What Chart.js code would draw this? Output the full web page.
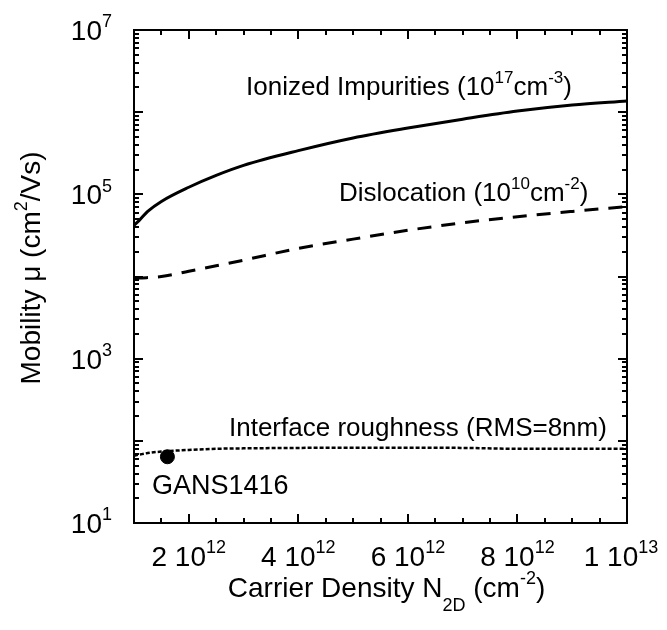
<!DOCTYPE html>
<html>
<head>
<meta charset="utf-8">
<script src="https://cdn.jsdelivr.net/npm/chart.js@4"></script>
<style>
  html, body { margin: 0; padding: 0; background: #fff; }
</style>
</head>
<body>
<canvas id="mobilityChart" width="667" height="630"></canvas>
<script>
// carrier density N2D (cm^-2)
const nDensity = [1e12, 1.1e12, 1.25e12, 1.5e12, 2e12, 2.5e12, 3e12, 4e12, 5e12, 6e12, 7e12, 8e12, 9e12, 1e13];
// mobility (cm^2/Vs) for each scattering mechanism
const ionizedImpurities = [4.2e4, 4.85e4, 6.2e4, 8.2e4, 1.22e5, 1.7e5, 2.25e5, 3.4e5, 4.85e5, 6.4e5, 8.2e5, 1.03e6, 1.22e6, 1.37e6];
const dislocation = [9.6e3, 9.6e3, 9.7e3, 1.0e4, 1.16e4, 1.35e4, 1.58e4, 2.2e4, 2.85e4, 3.65e4, 4.5e4, 5.35e4, 6.2e4, 7.1e4];
const interfaceRoughness = [66, 68, 71, 74, 77.5, 80, 81, 82, 82.5, 82.5, 82, 80, 80, 80];
// measured sample
const sampleN = [1.61e12];
const sampleMobility = [64];

// axis ticks
const xTickValues = [2e12, 4e12, 6e12, 8e12, 1e13];
const xTickMantissa = ['2', '4', '6', '8', '1'];
const xTickExps = ['12', '12', '12', '12', '13'];
const yTickValues = [1e1, 1e3, 1e5, 1e7];
const yTickExps = ['1', '3', '5', '7'];

const FONT = '"Liberation Sans", Arial, Helvetica, sans-serif';

function toPoints(xs, ys) {
    return xs.map((x, i) => ({ x: x, y: ys[i] }));
}

// draws text made of normal / sup / sub pieces
function richText(ctx, parts, x, y, size, align) {
    const small = Math.round(size * 0.65);
    let w = 0;
    parts.forEach(([t, k]) => {
        ctx.font = (k === 'n' ? size : small) + 'px ' + FONT;
        w += ctx.measureText(t).width;
    });
    let cx = align === 'center' ? x - w / 2 : (align === 'right' ? x - w : x);
    ctx.textAlign = 'left';
    ctx.textBaseline = 'alphabetic';
    parts.forEach(([t, k]) => {
        ctx.font = (k === 'n' ? size : small) + 'px ' + FONT;
        let dy = 0;
        if (k === 'sup') dy = -size * 0.45;
        if (k === 'sub') dy = size * 0.5;
        ctx.fillText(t, cx, y + dy);
        cx += ctx.measureText(t).width;
    });
}

const frameAxes = {
    id: 'frameAxes',
    afterDatasetsDraw(chart) {
        const ctx = chart.ctx;
        const a = chart.chartArea;
        const xs = chart.scales.x;
        const ys = chart.scales.y;
        ctx.save();
        ctx.strokeStyle = '#000';
        ctx.fillStyle = '#000';
        ctx.lineWidth = 2;
        ctx.strokeRect(a.left, a.top, a.right - a.left, a.bottom - a.top);

        // x ticks every 0.5e12, major every 2e12 (inward, top and bottom)
        ctx.beginPath();
        for (let k = 2; k <= 20; k++) {
            const px = Math.round(xs.getPixelForValue(k * 5e11));
            const len = k % 4 === 0 ? 9 : 5;
            ctx.moveTo(px, a.bottom); ctx.lineTo(px, a.bottom - len);
            ctx.moveTo(px, a.top); ctx.lineTo(px, a.top + len);
        }
        // y ticks, log minor
        for (let d = 1; d < 7; d++) {
            for (let m = 1; m <= 9; m++) {
                const py = Math.round(ys.getPixelForValue(m * Math.pow(10, d)));
                const len = m === 1 ? 9 : 5;
                ctx.moveTo(a.left, py); ctx.lineTo(a.left + len, py);
                ctx.moveTo(a.right, py); ctx.lineTo(a.right - len, py);
            }
        }
        ctx.stroke();

        // tick labels (last one pulled in a bit, as in the original)
        xTickValues.forEach((v, i) => {
            const shift = i === xTickValues.length - 1 ? -6 : 0;
            richText(ctx, [[xTickMantissa[i] + ' 10', 'n'], [xTickExps[i], 'sup']],
                xs.getPixelForValue(v) + shift, 566, 28, 'center');
        });
        yTickValues.forEach((v, i) => {
            richText(ctx, [['10', 'n'], [yTickExps[i], 'sup']],
                112, ys.getPixelForValue(v) + 10, 28, 'right');
        });

        // axis titles
        richText(ctx, [['Carrier Density N', 'n'], ['2D', 'sub'], [' (cm', 'n'], ['-2', 'sup'], [')', 'n']],
            (a.left + a.right) / 2 + 6, 597, 28, 'center');
        ctx.save();
        ctx.translate(40, 268);
        ctx.rotate(-Math.PI / 2);
        richText(ctx, [['Mobility \u03bc (cm', 'n'], ['2', 'sup'], ['/Vs)', 'n']], 0, 0, 28, 'center');
        ctx.restore();

        // curve labels
        richText(ctx, [['Ionized Impurities (10', 'n'], ['17', 'sup'], ['cm', 'n'], ['-3', 'sup'], [')', 'n']], 246, 95, 26, 'left');
        richText(ctx, [['Dislocation (10', 'n'], ['10', 'sup'], ['cm', 'n'], ['-2', 'sup'], [')', 'n']], 339, 201, 26, 'left');
        richText(ctx, [['Interface roughness (RMS=8nm)', 'n']], 229, 436, 26, 'left');
        richText(ctx, [['GANS1416', 'n']], 152, 494, 27, 'left');
        ctx.restore();
    }
};

new Chart(document.getElementById('mobilityChart'), {
    type: 'line',
    data: {
        datasets: [
            {
                label: 'Ionized Impurities',
                data: toPoints(nDensity, ionizedImpurities),
                borderColor: '#000',
                borderWidth: 3,
                pointRadius: 0,
                cubicInterpolationMode: 'monotone'
            },
            {
                label: 'Dislocation',
                data: toPoints(nDensity, dislocation),
                borderColor: '#000',
                borderWidth: 3,
                borderDash: [14, 10],
                pointRadius: 0,
                cubicInterpolationMode: 'monotone'
            },
            {
                label: 'Interface roughness',
                data: toPoints(nDensity, interfaceRoughness),
                borderColor: '#000',
                borderWidth: 2.5,
                borderDash: [4, 2],
                pointRadius: 0,
                cubicInterpolationMode: 'monotone'
            },
            {
                label: 'GANS1416',
                data: toPoints(sampleN, sampleMobility),
                showLine: false,
                pointRadius: 7,
                pointBackgroundColor: '#000',
                pointBorderColor: '#000'
            }
        ]
    },
    options: {
        responsive: false,
        animation: false,
        layout: { padding: { left: 134, right: 40, top: 30, bottom: 107 } },
        plugins: {
            legend: { display: false },
            tooltip: { enabled: false }
        },
        scales: {
            x: { type: 'linear', min: 1e12, max: 1e13, display: false },
            y: { type: 'logarithmic', min: 10, max: 1e7, display: false }
        }
    },
    plugins: [frameAxes]
});
</script>
</body>
</html>
